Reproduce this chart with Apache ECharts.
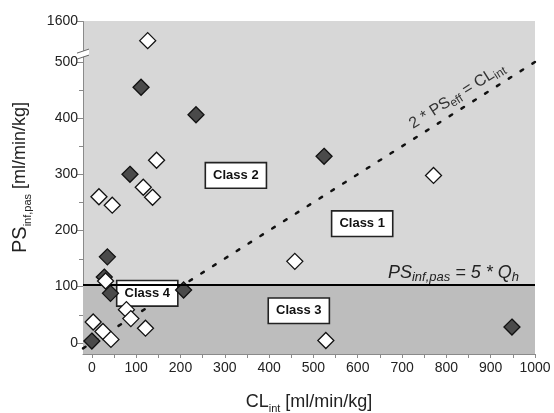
<!DOCTYPE html>
<html>
<head>
<meta charset="utf-8">
<script src="https://cdn.jsdelivr.net/npm/echarts@6/dist/echarts.min.js"></script>
<style>
  html, body { margin: 0; padding: 0; background: #fff; }
  #chart { width: 554px; height: 413px; }
</style>
</head>
<body>
<div id="chart"></div>
<script>
const FONT = '"Liberation Sans", Arial, Helvetica, sans-serif';

// Compounds: [CL_int, PS_inf,pas] in ml/min/kg
const openCompounds = [
  [126, 1565], [146, 325], [116, 277], [137, 259], [16, 260], [46, 245],
  [78, 59], [88, 43], [121, 26], [3, 37], [25, 20], [43, 6],
  [458, 145], [528, 4], [771, 298], [31, 110]
];
const filledCompounds = [
  [111, 455], [235, 406], [86, 300], [35, 153], [28, 117], [42, 88],
  [207, 94], [524, 332], [948, 28], [0, 3]
];

// Boundaries
const hepaticLimit = 103.5;                       // PS_inf,pas = 5 * Q_h
const effluxBoundary = [[-20, -10], [1000, 500]]; // 2 * PS_eff = CL_int

// Class annotations
const classNames = ['Class 1', 'Class 2', 'Class 3', 'Class 4'];
const classPositions = [[610, 212], [325, 298], [467, 57], [125, 88]];

// Axis ticks
const xLabelValues = [0, 100, 200, 300, 400, 500, 600, 700, 800, 900, 1000];
const xTickValues = [0, 50, 100, 150, 200, 250, 300, 350, 400, 450, 500, 550,
  600, 650, 700, 750, 800, 850, 900, 950, 1000];
const yLabelValues = [0, 100, 200, 300, 400, 500, 1600];
const yMinorTickValues = [50, 150, 250, 350, 450];
const yBreak = { start: 510, end: 1538 };

const chart = echarts.init(document.getElementById('chart'), null, { renderer: 'canvas' });

const axisGray = '#8a8a8a';
const textDark = '#222';
const plain = (v) => String(v);

chart.setOption({
  animation: false,
  textStyle: { fontFamily: FONT },
  grid: {
    left: 83, right: 19, top: 21, bottom: 59,
    outerBoundsMode: 'none',
    containLabel: false,
    show: true, backgroundColor: '#d7d7d7', borderWidth: 0
  },
  xAxis: {
    type: 'value',
    min: -20,
    max: 1000,
    splitLine: { show: false },
    axisLine: { onZero: false, lineStyle: { color: axisGray, width: 1 } },
    axisTick: { customValues: xTickValues, length: 4, lineStyle: { color: axisGray } },
    axisLabel: {
      customValues: xLabelValues, margin: 7, formatter: plain,
      fontSize: 14, color: textDark, fontFamily: FONT
    },
    name: '{m|CL}{s|int}{m| [ml/min/kg]}',
    nameLocation: 'middle',
    nameGap: 36,
    nameTextStyle: {
      rich: {
        m: { fontSize: 18, color: textDark, fontFamily: FONT, lineHeight: 24 },
        s: { fontSize: 11, color: textDark, fontFamily: FONT, lineHeight: 10, verticalAlign: 'bottom' }
      }
    }
  },
  yAxis: {
    type: 'value',
    min: -20,
    max: 1600,
    breaks: [{ start: yBreak.start, end: yBreak.end, gap: 1 }],
    breakArea: { show: false },
    splitLine: { show: false },
    axisLine: { onZero: false, lineStyle: { color: axisGray, width: 1 } },
    axisTick: { customValues: yLabelValues, length: 6, lineStyle: { color: axisGray } },
    axisLabel: {
      customValues: yLabelValues, margin: 5, formatter: plain,
      fontSize: 14, color: textDark, fontFamily: FONT
    },
    name: '{m|PS}{s|inf,pas}{n| [ml/min/kg]}',
    nameLocation: 'middle',
    nameRotate: 90,
    nameGap: 50,
    nameTextStyle: {
      padding: [0, 0, 0, 20],
      rich: {
        m: { fontSize: 20, color: textDark, fontFamily: FONT, lineHeight: 26 },
        n: { fontSize: 18, color: textDark, fontFamily: FONT, lineHeight: 26 },
        s: { fontSize: 11, color: textDark, fontFamily: FONT, lineHeight: 10, verticalAlign: 'bottom' }
      }
    }
  },
  series: [
    {
      // lower band and the 5 * Q_h limit
      type: 'line',
      data: [],
      silent: true,
      markArea: {
        silent: true,
        itemStyle: { color: '#bdbdbd' },
        data: [[{ yAxis: -20 }, { yAxis: hepaticLimit }]]
      },
      markLine: {
        silent: true,
        symbol: 'none',
        lineStyle: { color: '#000', width: 2, type: 'solid' },
        data: [{ yAxis: hepaticLimit }],
        label: {
          show: true,
          position: 'insideEndTop',
          distance: [16, 1],
          formatter: '{m|PS}{s|inf,pas}{m| = 5 * Q}{s|h}',
          rich: {
            m: { fontSize: 18, fontStyle: 'italic', color: textDark, fontFamily: FONT, lineHeight: 22 },
            s: { fontSize: 13, fontStyle: 'italic', color: textDark, fontFamily: FONT, lineHeight: 8, verticalAlign: 'bottom' }
          }
        }
      },
      z: 1
    },
    {
      // 2 * PS_eff = CL_int
      type: 'line',
      data: effluxBoundary,
      symbol: 'none',
      silent: true,
      lineStyle: { color: '#111', width: 2.5, type: [3, 11], cap: 'round' },
      z: 2
    },
    {
      type: 'scatter',
      data: classNames.map((n, i) => ({ name: n, value: classPositions[i] })),
      symbolSize: 0,
      silent: true,
      itemStyle: { opacity: 1 },
      label: {
        show: true,
        position: 'inside',
        formatter: '{b}',
        backgroundColor: '#fff',
        borderColor: '#222',
        borderWidth: 1.6,
        padding: [6, 7, 5, 7],
        fontSize: 13,
        fontWeight: 'bold',
        color: '#111',
        opacity: 1,
        textBorderWidth: 0,
        fontFamily: FONT
      },
      z: 3
    },
    {
      type: 'scatter',
      data: filledCompounds,
      symbol: 'diamond',
      symbolSize: 16,
      itemStyle: { color: '#4a4a4a', borderColor: '#111', borderWidth: 1.3, opacity: 1 },
      z: 4
    },
    {
      type: 'scatter',
      data: openCompounds,
      symbol: 'diamond',
      symbolSize: 16,
      itemStyle: { color: '#fff', borderColor: '#111', borderWidth: 1.3, opacity: 1 },
      z: 5
    }
  ]
});

// Minor y ticks, break marks on the y axis and the label along the efflux boundary
const px = (p) => chart.convertToPixel({ gridIndex: 0 }, p);
const breakY = (px([0, yBreak.start])[1] + px([0, yBreak.end])[1]) / 2 - 2;
const axisX = px([-20, 0])[0];
const a = px(effluxBoundary[0]);
const b = px(effluxBoundary[1]);
const angle = Math.atan2(a[1] - b[1], b[0] - a[0]);
const anchor = px([840, 420]);
const off = 3;

const minorTicks = yMinorTickValues.map((v) => {
  const y = Math.round(px([0, v])[1]) + 0.5;
  return {
    type: 'line',
    shape: { x1: axisX - 4, y1: y, x2: axisX, y2: y },
    style: { stroke: axisGray, lineWidth: 1 },
    z: 90
  };
});

chart.setOption({
  graphic: minorTicks.concat([
    {
      type: 'polygon',
      shape: { points: [[axisX - 6, breakY + 5], [axisX + 6, breakY + 1], [axisX + 6, breakY - 5], [axisX - 6, breakY - 1]] },
      style: { fill: '#fff' },
      z: 100
    },
    {
      type: 'line',
      shape: { x1: axisX - 6, y1: breakY + 5, x2: axisX + 6, y2: breakY + 1 },
      style: { stroke: '#666', lineWidth: 1 },
      z: 101
    },
    {
      type: 'line',
      shape: { x1: axisX - 6, y1: breakY - 1, x2: axisX + 6, y2: breakY - 5 },
      style: { stroke: '#666', lineWidth: 1 },
      z: 101
    },
    {
      type: 'text',
      x: anchor[0] - off * Math.sin(angle),
      y: anchor[1] - off * Math.cos(angle),
      rotation: angle,
      style: {
        text: '{m|2 * PS}{s|eff}{m| = CL}{s|int}',
        align: 'center',
        verticalAlign: 'bottom',
        rich: {
          m: { fontSize: 16, fill: '#333', fontFamily: FONT, lineHeight: 20 },
          s: { fontSize: 12, fill: '#333', fontFamily: FONT, lineHeight: 8, verticalAlign: 'bottom' }
        }
      },
      z: 50
    }
  ])
});
</script>
</body>
</html>
